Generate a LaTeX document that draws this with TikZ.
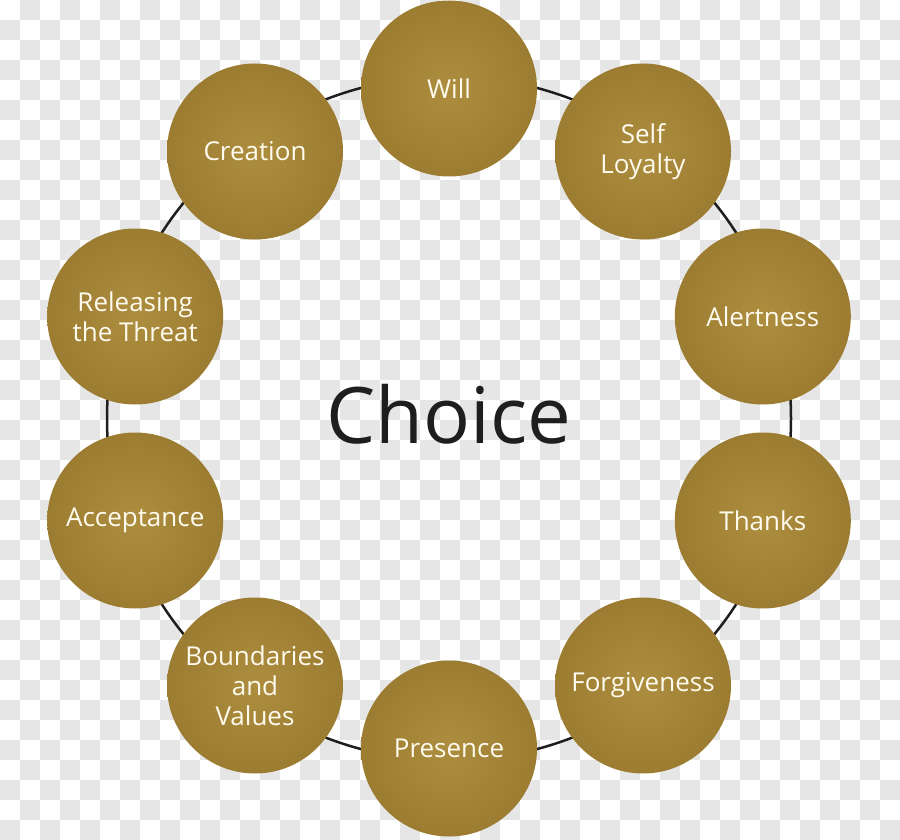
\documentclass[tikz,border=0pt]{standalone}
\usepackage{fontspec}
\setmainfont{Open Sans}
\definecolor{bggray}{HTML}{E6E6E6}
\definecolor{goldin}{HTML}{AD8E3F}
\definecolor{goldout}{HTML}{9C7C31}
\definecolor{ringc}{HTML}{1E1E1E}
\definecolor{cream}{HTML}{FFFBEF}
\tikzset{
  ball/.style={circle, minimum size=176pt, inner sep=0pt, shading=radial,
    inner color=goldin, outer color=goldout, text=cream, align=center,
    font=\fontsize{26}{30}\selectfont},
  chk/.style={fill=bggray, draw=none},
}
\begin{document}
\begin{tikzpicture}[x=1pt,y=-1pt]
\fill[white] (0,0) rectangle (900,840);
\useasboundingbox (0,0) rectangle (900,840);
\foreach \i in {0,40,...,880}{\foreach \j in {20,60,...,820}{%
  \path[chk] (\i,\j) rectangle ++(20,20);}}
\foreach \i in {20,60,...,900}{\foreach \j in {0,40,...,820}{%
  \path[chk] (\i,\j) rectangle ++(20,20);}}
\coordinate (c) at (449,418.5);
\draw[ringc, line width=2.5pt] (c) circle (342);
\node[ball] (will) at (449,88.5) {Will};
\node[ball] (self) at (643,151.5) {Self\\Loyalty};
\node[ball] (alert) at (762.8,316.5) {Alertness};
\node[ball] (thanks) at (762.8,520.5) {Thanks};
\node[ball] (forg) at (643,685.5) {Forgiveness};
\node[ball] (pres) at (449,748.5) {Presence};
\node[ball] (bound) at (255,685.5) {Boundaries\\and\\Values};
\node[ball] (accept) at (135.2,520.5) {Acceptance};
\node[ball] (rel) at (135.2,316.5) {Releasing\\the Threat};
\node[ball] (creat) at (255,151.5) {Creation};
\node[text=ringc, font=\fontsize{78}{80}\selectfont] (choice) at (449,414) {Choice};
\end{tikzpicture}
\end{document}
